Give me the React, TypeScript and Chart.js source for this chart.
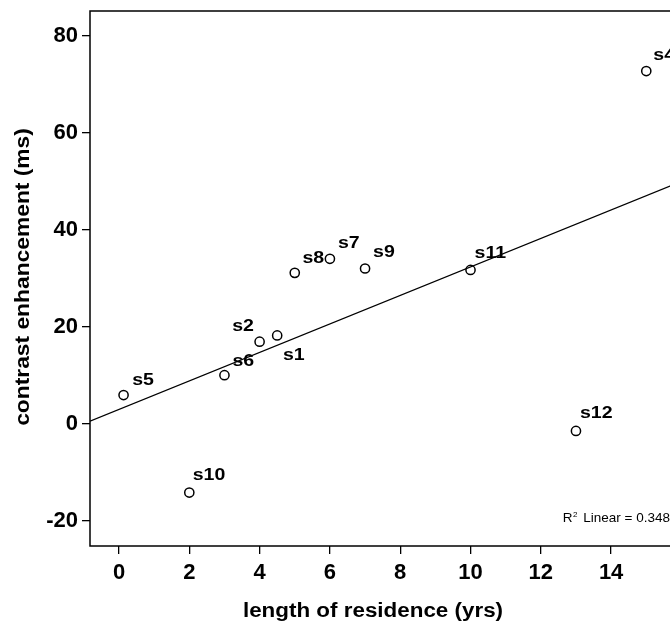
import React, { useEffect, useRef } from "react";
import { Chart, registerables } from "chart.js";

Chart.register(...registerables);

// ---- data ----
const subjects = ["s1", "s2", "s4", "s5", "s6", "s7", "s8", "s9", "s10", "s11", "s12"];
const residenceYears = [4.5, 4, 15, 0.13, 3, 6, 5, 7, 2, 10, 13];
const contrastMs = [18.2, 16.9, 72.7, 5.9, 10.0, 34.0, 31.1, 32.0, -14.2, 31.7, -1.5];
const xTicks = [0, 2, 4, 6, 8, 10, 12, 14, 16];
const yTicks = [-20, 0, 20, 40, 60, 80];
const xRange = [-0.825, 16.5];
const yRange = [-25.22, 85.09];
const r2Value = "0.348";
const xTitle = "length of residence (yrs)";
const yTitle = "contrast enhancement (ms)";

// label placement (style only): dx, dy from the point centre, text alignment
const labelPlacement: [number, number, CanvasTextAlign][] = [
  [5.7, 24.7, "left"],
  [-5.7, -10.3, "right"],
  [7, -11, "left"],
  [8.6, -10, "left"],
  [8, -9.6, "left"],
  [8, -11, "left"],
  [7.7, -10.3, "left"],
  [8, -11, "left"],
  [3.4, -12.7, "left"],
  [4, -12, "left"],
  [4, -12.7, "left"],
];

const FONT = "'Liberation Sans', Arial, Helvetica, sans-serif";

function linearFit(xs: number[], ys: number[]) {
  const n = xs.length;
  const mx = xs.reduce((a, b) => a + b, 0) / n;
  const my = ys.reduce((a, b) => a + b, 0) / n;
  let sxy = 0;
  let sxx = 0;
  for (let i = 0; i < n; i++) {
    sxy += (xs[i] - mx) * (ys[i] - my);
    sxx += (xs[i] - mx) * (xs[i] - mx);
  }
  const slope = sxy / sxx;
  return { slope, intercept: my - slope * mx };
}

function stretched(
  ctx: CanvasRenderingContext2D,
  text: string,
  x: number,
  y: number,
  align: CanvasTextAlign,
  sx: number
) {
  ctx.save();
  ctx.translate(x, y);
  ctx.scale(sx, 1);
  ctx.textAlign = align;
  ctx.textBaseline = "alphabetic";
  ctx.fillText(text, 0, 0);
  ctx.restore();
}

const decorPlugin = {
  id: "decor",
  afterDraw(chart: any) {
    const ctx: CanvasRenderingContext2D = chart.ctx;
    const a = chart.chartArea;
    ctx.save();
    // frame
    ctx.strokeStyle = "#000";
    ctx.lineWidth = 1.5;
    ctx.strokeRect(a.left, a.top, a.right - a.left, a.bottom - a.top);

    ctx.fillStyle = "#000";
    // point labels
    const meta = chart.getDatasetMeta(0);
    ctx.font = `bold 17px ${FONT}`;
    meta.data.forEach((pt: any, i: number) => {
      const [dx, dy, al] = labelPlacement[i];
      stretched(ctx, subjects[i], pt.x + dx, pt.y + dy, al, 1.15);
    });

    // axis titles
    ctx.font = `bold 20px ${FONT}`;
    stretched(ctx, xTitle, a.left + 283, a.bottom + 71, "center", 1.12);
    ctx.save();
    ctx.translate(a.left - 61, (a.top + a.bottom) / 2 - 1.5);
    ctx.rotate(-Math.PI / 2);
    ctx.scale(1.14, 1);
    ctx.textAlign = "center";
    ctx.textBaseline = "alphabetic";
    ctx.fillText(yTitle, 0, 0);
    ctx.restore();

    // R² annotation
    const rx = a.left + 472.7;
    const ry = a.bottom - 24.3;
    ctx.font = `13.5px ${FONT}`;
    ctx.textAlign = "left";
    ctx.textBaseline = "alphabetic";
    ctx.fillText("R", rx, ry);
    const rw = ctx.measureText("R").width;
    ctx.font = `8px ${FONT}`;
    ctx.fillText("2", rx + rw + 0.5, ry - 5);
    ctx.font = `13.5px ${FONT}`;
    ctx.fillText("Linear = " + r2Value, rx + 20.6, ry);
    ctx.restore();
  },
};

export default function App() {
  const canvasRef = useRef<HTMLCanvasElement | null>(null);

  useEffect(() => {
    if (!canvasRef.current) return;
    const fit = linearFit(residenceYears, contrastMs);
    const points = residenceYears.map((x, i) => ({ x, y: contrastMs[i] }));
    const fitLine = xRange.map((x) => ({ x, y: fit.intercept + fit.slope * x }));

    const tickFont = { family: FONT, size: 22, weight: "bold" as const };

    const chart = new Chart(canvasRef.current, {
      type: "scatter",
      data: {
        datasets: [
          {
            label: "subjects",
            data: points,
            pointStyle: "circle",
            pointRadius: 4.6,
            pointBorderWidth: 1.5,
            borderColor: "#000",
            backgroundColor: "rgba(0,0,0,0)",
            showLine: false,
          },
          {
            label: "fit",
            data: fitLine,
            showLine: true,
            pointRadius: 0,
            borderColor: "#000",
            borderWidth: 1.2,
            backgroundColor: "rgba(0,0,0,0)",
          },
        ],
      },
      options: {
        responsive: false,
        animation: false,
        layout: { padding: { left: 0, top: 11, right: 41, bottom: 0 } },
        plugins: {
          legend: { display: false },
          tooltip: { enabled: false },
        },
        scales: {
          x: {
            type: "linear",
            min: xRange[0],
            max: xRange[1],
            afterBuildTicks: (s: any) => {
              s.ticks = xTicks.map((v) => ({ value: v }));
            },
            afterFit: (s: any) => {
              s.height = 80;
              s.paddingLeft = 0;
              s.paddingRight = 0;
            },
            grid: {
              display: true,
              drawOnChartArea: false,
              drawTicks: true,
              tickLength: 8,
              color: "#000",
              lineWidth: 1.3,
            },
            border: { display: false },
            ticks: {
              autoSkip: false,
              maxRotation: 0,
              padding: 6,
              color: "#000",
              font: tickFont,
              callback: (v: any) => String(v),
            },
          },
          y: {
            type: "linear",
            min: yRange[0],
            max: yRange[1],
            afterBuildTicks: (s: any) => {
              s.ticks = yTicks.map((v) => ({ value: v }));
            },
            afterFit: (s: any) => {
              s.width = 90;
              s.paddingTop = 0;
              s.paddingBottom = 0;
            },
            grid: {
              display: true,
              drawOnChartArea: false,
              drawTicks: true,
              tickLength: 8,
              color: "#000",
              lineWidth: 1.3,
            },
            border: { display: false },
            ticks: {
              autoSkip: false,
              padding: 4,
              color: "#000",
              font: tickFont,
              callback: (v: any) => String(v),
            },
          },
        },
      },
      plugins: [decorPlugin],
    });
    return () => chart.destroy();
  }, []);

  return (
    <div
      style={{
        position: "fixed",
        left: 0,
        top: 0,
        width: 670,
        height: 626,
        overflow: "hidden",
        background: "#fff",
      }}
    >
      <canvas ref={canvasRef} width={740} height={626} style={{ display: "block" }} />
    </div>
  );
}
